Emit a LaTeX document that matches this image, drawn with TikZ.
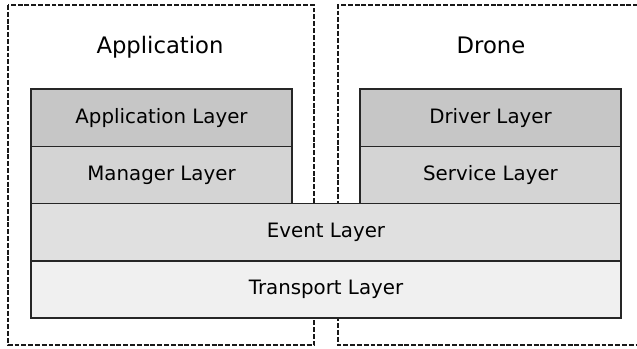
\documentclass[tikz,border=0pt]{standalone}
\usepackage{fontspec}
\setmainfont{DejaVu Sans}
\usetikzlibrary{positioning}
\newcommand{\LW}{261}
\newcommand{\LH}{57.3}
\definecolor{lytop}{RGB}{198,198,198}
\definecolor{lymid}{RGB}{212,212,212}
\definecolor{lyevt}{RGB}{224,224,224}
\definecolor{lytrn}{RGB}{240,240,240}

\begin{document}
\begin{tikzpicture}[
    x=0.03cm, y=-0.03cm,
    layer/.style={draw=black!85, line width=1.2pt, rectangle, inner sep=0pt, outer sep=0pt,
                  anchor=north west, font=\fontsize{16.9}{18}\selectfont,
                  minimum width=\LW*0.03cm, minimum height=\LH*0.03cm},
    side/.style={draw=black!90, line width=1.2pt, dash pattern=on 4.2pt off 1.6pt},
    head/.style={font=\fontsize{19.4}{21}\selectfont, anchor=base},
  ]
  \useasboundingbox (0,0) rectangle (637,349);
  \clip (0,0) rectangle (637,349);

  %% ================= the two sides =================
  \draw[side] (8,5) rectangle (314,345);
  \draw[side] (645,5) -- (338,5) -- (338,345) -- (645,345);

  \node[head] (apphead) at (160,54) {Application};
  \node[head] (drnhead) at (491,54) {Drone};

  %% ================= the layer stack =================
  \node[layer, fill=lytop] (applayer) at (31,89) {Application Layer};
  \node[layer, fill=lymid, below=0pt of applayer.south west, anchor=north west] (mgrlayer) {Manager Layer};
  \node[layer, fill=lytop] (drvlayer) at (360,89) {Driver Layer};
  \node[layer, fill=lymid, below=0pt of drvlayer.south west, anchor=north west] (svclayer) {Service Layer};

  % shared layers span both sides
  \node[layer, fill=lyevt, minimum width=590*0.03cm, below=0pt of mgrlayer.south west, anchor=north west] (evtlayer) {Event Layer};
  \node[layer, fill=lytrn, minimum width=590*0.03cm, below=0pt of evtlayer.south west, anchor=north west] (trnlayer) {Transport Layer};

\end{tikzpicture}
\end{document}
